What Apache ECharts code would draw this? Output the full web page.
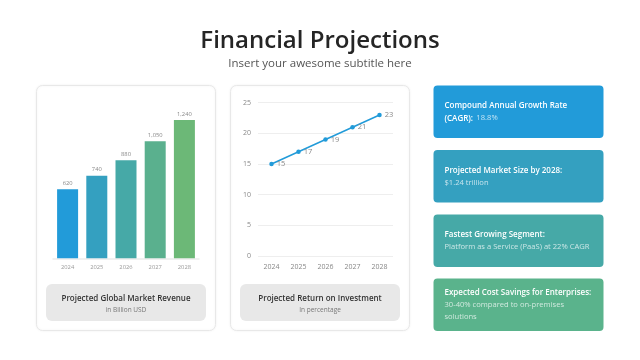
<!DOCTYPE html>
<html><head><meta charset="utf-8">
<script src="https://cdn.jsdelivr.net/npm/echarts@6/dist/echarts.min.js"></script>
<style>html,body{margin:0;padding:0;background:#fff}#c{width:640px;height:360px}</style>
</head><body><div id="c"></div>
<script>
const years = ['2024','2025','2026','2027','2028'];
const revenue = [620, 740, 880, 1050, 1240];
const roi = [15, 17, 19, 21, 23];
const roiTicks = [0, 5, 10, 15, 20, 25];
const revenueTitle = 'Projected Global Market Revenue';
const revenueSub = 'in Billion USD';
const roiTitle = 'Projected Return on Investment';
const roiSub = 'In percentage';
const boxHeads = [['Compound Annual Growth Rate', '(CAGR):'], ['Projected Market Size by 2028:'], ['Fastest Growing Segment:'], ['Expected Cost Savings for Enterprises:']];
const boxValues = [['18.8%'], ['$1.24 trillion'], ['Platform as a Service (PaaS) at 22% CAGR'], ['30-40% compared to on-premises', 'solutions']];

const barColors = ['#229bd9', '#34a0c0', '#46a9a7', '#5ab08e', '#6cb877'];
const boxColors = ['#229bd9', '#34a0c0', '#46a9a7', '#5ab38c'];
const FONT = '"Open Sans", sans-serif';

const chart = echarts.init(document.getElementById('c'), null, {renderer: 'canvas'});

const graphics = [];
// title
graphics.push({type:'text', z:10, x:320, y:41, style:{text:'Financial Projections', font:'600 24px ' + FONT, fill:'#252525', align:'center', verticalAlign:'middle'}});
graphics.push({type:'text', z:10, x:320, y:63.5, style:{text:'Insert your awesome subtitle here', font:'400 11.5px ' + FONT, fill:'#555', align:'center', verticalAlign:'middle'}});
// cards
function card(x, w) {
  graphics.push({type:'rect', z:0, shape:{x:x, y:85.5, width:w, height:245, r:6}, style:{fill:'#fff', stroke:'#e8e8e8', lineWidth:1, shadowBlur:3, shadowColor:'rgba(0,0,0,0.06)'}});
}
card(36.5, 179); card(230.5, 179);
function caption(x, w, t, s) {
  graphics.push({type:'rect', z:1, shape:{x:x, y:284, width:w, height:37, r:6}, style:{fill:'#e8e8e8'}});
  graphics.push({type:'text', z:2, x:x + w/2, y:299, style:{text:t, font:'600 8px ' + FONT, fill:'#333', align:'center', verticalAlign:'middle'}});
  graphics.push({type:'text', z:2, x:x + w/2, y:310, style:{text:s, font:'400 6.5px ' + FONT, fill:'#777', align:'center', verticalAlign:'middle'}});
}
caption(46, 160, revenueTitle, revenueSub);
caption(240, 160, roiTitle, roiSub);
// right boxes
const boxY = [85.5, 150, 214.5, 278.5];
boxY.forEach((y, i) => {
  graphics.push({type:'rect', z:1, shape:{x:433.5, y:y, width:170, height:52.5, r:4}, style:{fill:boxColors[i]}});
  const heads = boxHeads[i];
  const vals = boxValues[i];
  let lines = [];
  if (heads.length > 1) {
    lines.push('{b|' + heads[0] + '}');
    lines.push('{b|' + heads[1] + '} {v|' + vals[0] + '}');
  } else {
    lines.push('{b|' + heads[0] + '}');
    vals.forEach(v => lines.push('{v|' + v + '}'));
  }
  const n = lines.length;
  const lh = n === 3 ? 12 : 12.5;
  graphics.push({type:'text', z:2, x:444.5, y:y + 26.5 - (n*lh)/2, style:{
    text: lines.join('\n'), verticalAlign:'top', align:'left',
    rich:{
      b:{font:'600 8px ' + FONT, fill:'#fff', lineHeight:lh},
      v:{font:'400 7.6px ' + FONT, fill:'rgba(255,255,255,0.72)', lineHeight:lh}
    }
  }});
});

chart.setOption({
  animation:false,
  textStyle:{fontFamily:FONT},
  graphic: graphics,
  grid:[
    {left:53, width:146, top:102.2, bottom:101.7},
    {left:258, width:135, top:102.7, bottom:104}
  ],
  xAxis:[
    {gridIndex:0, type:'category', data:years, axisTick:{show:false},
     axisLine:{lineStyle:{color:'#ececec', width:1.5}},
     axisLabel:{color:'#999', fontSize:5.8, margin:6}},
    {gridIndex:1, type:'category', data:years, axisTick:{show:false}, axisLine:{show:false},
     axisLabel:{color:'#888', fontSize:7, margin:7}}
  ],
  yAxis:[
    {gridIndex:0, type:'value', min:0, max:1400, show:false},
    {gridIndex:1, type:'value', min:roiTicks[0], max:roiTicks[roiTicks.length-1], interval:5,
     axisLine:{show:false}, axisTick:{show:false},
     splitLine:{lineStyle:{color:'#eeeeee'}},
     axisLabel:{color:'#888', fontSize:7, margin:7}}
  ],
  series:[
    {type:'bar', xAxisIndex:0, yAxisIndex:0, barWidth:21,
     data: revenue.map((v, i) => ({value:v, itemStyle:{color:barColors[i]}})),
     label:{show:true, position:'top', distance:3, color:'#888', fontSize:5.8,
       formatter: p => p.value.toLocaleString('en-US')}},
    {type:'line', xAxisIndex:1, yAxisIndex:1, data:roi, symbol:'circle', symbolSize:4.5,
     lineStyle:{color:'#229bd9', width:1.5}, itemStyle:{color:'#229bd9'},
     label:{show:true, position:'right', distance:3, color:'#888', fontSize:7.5}}
  ]
});
</script></body></html>
